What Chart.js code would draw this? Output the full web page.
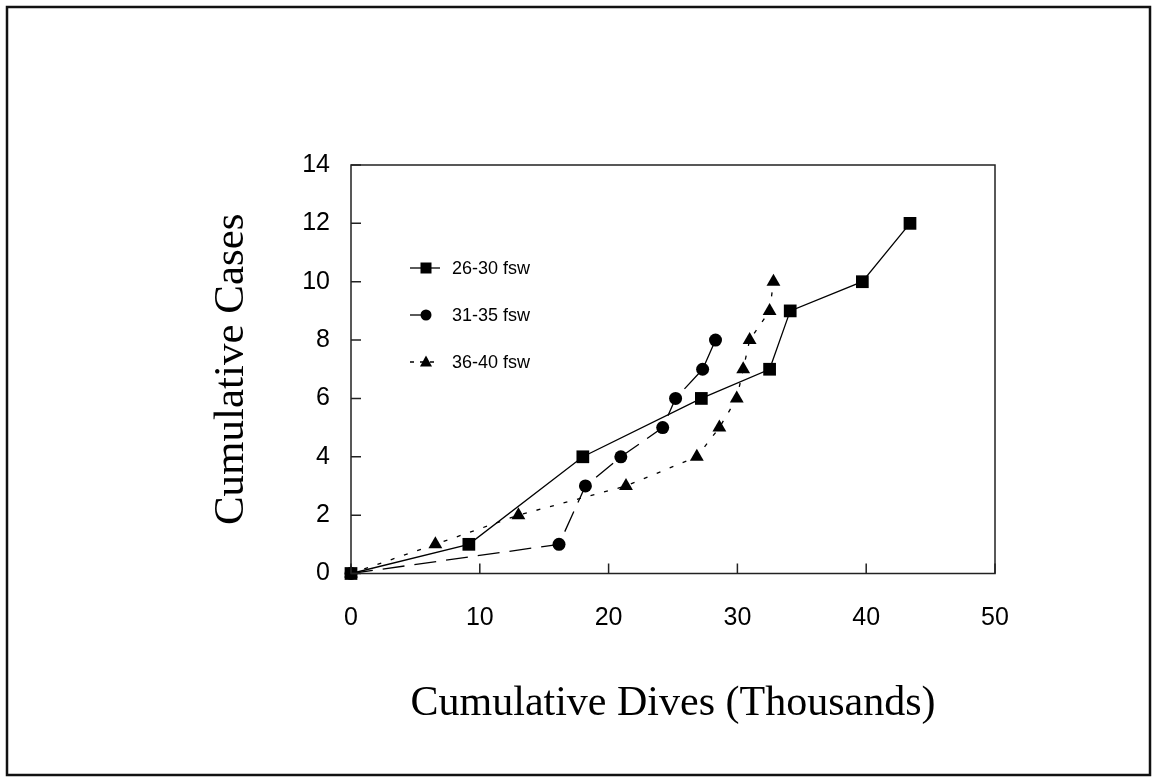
<!DOCTYPE html>
<html>
<head>
<meta charset="utf-8">
<script src="https://cdn.jsdelivr.net/npm/chart.js@4/dist/chart.umd.min.js"></script>
<style>
  html, body { margin: 0; padding: 0; background: #fff; overflow: hidden; }
  canvas { display: block; }
</style>
</head>
<body>
<canvas id="dives" width="1153" height="779"></canvas>
<script>
// cumulative dives (thousands) vs cumulative cases, by depth band
var dives2630 = [0, 9.15, 18, 27.2, 32.5, 34.1, 39.7, 43.4];
var cases2630 = [0, 1, 4, 6, 7, 9, 10, 12];
var dives3135 = [0, 16.15, 18.2, 20.95, 24.2, 25.2, 27.3, 28.3];
var cases3135 = [0, 1, 3, 4, 5, 6, 7, 8];
var dives3640 = [0, 6.55, 13, 21.35, 26.85, 28.6, 29.95, 30.45, 30.95, 32.5, 32.8];
var cases3640 = [0, 1, 2, 3, 4, 5, 6, 7, 8, 9, 10];
var seriesNames = ['26-30 fsw', '31-35 fsw', '36-40 fsw'];
var xTicks = [0, 10, 20, 30, 40, 50];
var yTicks = [0, 2, 4, 6, 8, 10, 12, 14];

function pts(xs, ys) {
    return xs.map(function (v, i) { return { x: v, y: ys[i] }; });
}

// outer frame, plot box, inward ticks and the little legend
var decor = {
    id: 'decor',
    beforeDraw: function (chart) {
        var c = chart.ctx;
        c.save();
        c.fillStyle = '#fff';
        c.fillRect(0, 0, chart.width, chart.height);
        c.restore();
    },
    afterDraw: function (chart) {
        var c = chart.ctx, a = chart.chartArea;
        var xs = chart.scales.x, ys = chart.scales.y;
        c.save();
        c.strokeStyle = '#111';
        c.lineWidth = 2.5;
        c.strokeRect(7, 7, 1143, 768);

        c.lineWidth = 1.5;
        c.strokeStyle = '#222';
        c.strokeRect(a.left, a.top, a.right - a.left, a.bottom - a.top);
        c.beginPath();
        xTicks.forEach(function (t) {
            var px = xs.getPixelForValue(t);
            c.moveTo(px, a.bottom);
            c.lineTo(px, a.bottom - 10);
        });
        yTicks.forEach(function (t) {
            var py = ys.getPixelForValue(t);
            c.moveTo(a.left, py);
            c.lineTo(a.left + 10, py);
        });
        c.stroke();

        // legend
        var lx = a.left + 59, ly = a.top + 103, gap = 47;
        chart.data.datasets.forEach(function (ds, i) {
            var y = ly + i * gap;
            var mx = lx + 16;
            c.strokeStyle = '#000';
            c.fillStyle = '#000';
            c.lineWidth = 1.3;
            c.setLineDash(i === 2 ? [4, 6] : []);
            c.beginPath();
            c.moveTo(lx, y);
            c.lineTo(i === 1 ? mx : lx + 30, y);
            c.stroke();
            c.setLineDash([]);
            c.beginPath();
            if (i === 0) {
                c.rect(mx - 5.5, y - 5.5, 11, 11);
            } else if (i === 1) {
                c.arc(mx, y, 5.5, 0, Math.PI * 2);
            } else {
                c.moveTo(mx, y - 6.5);
                c.lineTo(mx + 6, y + 4.5);
                c.lineTo(mx - 6, y + 4.5);
                c.closePath();
            }
            c.fill();
            c.font = '18px "Liberation Sans", Arial, sans-serif';
            c.textBaseline = 'middle';
            c.textAlign = 'left';
            c.fillText(ds.label, lx + 42, y + 1);
        });
        c.restore();
    }
};

const ctx = document.getElementById('dives');
const diveChart = new Chart(ctx, {
    type: 'line',
    data: {
        datasets: [{
            label: seriesNames[0],
            data: pts(dives2630, cases2630),
            borderColor: '#000',
            backgroundColor: '#000',
            borderWidth: 1.3,
            pointStyle: 'rect',
            pointRadius: 9,
            pointBorderWidth: 0,
            clip: false
        }, {
            label: seriesNames[1],
            data: pts(dives3135, cases3135),
            borderColor: '#000',
            backgroundColor: '#000',
            borderWidth: 1.3,
            borderDash: [22, 10],
            pointStyle: 'circle',
            pointRadius: 6.5,
            pointBorderWidth: 0,
            clip: false
        }, {
            label: seriesNames[2],
            data: pts(dives3640, cases3640),
            borderColor: '#000',
            backgroundColor: '#000',
            borderWidth: 1.3,
            borderDash: [4, 10],
            pointStyle: 'triangle',
            pointRadius: 8,
            pointBorderWidth: 0,
            clip: false
        }]
    },
    options: {
        responsive: false,
        animation: false,
        devicePixelRatio: 1,
        layout: {
            padding: { left: 206, top: 165, right: 158, bottom: 50 }
        },
        plugins: {
            legend: { display: false },
            tooltip: { enabled: false }
        },
        scales: {
            x: {
                type: 'linear',
                min: 0,
                max: 50,
                afterBuildTicks: function (s) { s.ticks = xTicks.map(function (v) { return { value: v }; }); },
                afterFit: function (s) { s.height = 155.5; },
                grid: { display: false, drawTicks: false },
                border: { display: false },
                ticks: {
                    color: '#000',
                    padding: 30,
                    font: { family: '"Liberation Sans", Arial, sans-serif', size: 25 }
                },
                title: {
                    display: true,
                    text: 'Cumulative Dives (Thousands)',
                    color: '#000',
                    padding: 0,
                    font: { family: '"Liberation Serif", "Times New Roman", serif', size: 42, lineHeight: 1.2 }
                }
            },
            y: {
                type: 'linear',
                min: 0,
                max: 14,
                afterBuildTicks: function (s) { s.ticks = yTicks.map(function (v) { return { value: v }; }); },
                afterFit: function (s) { s.width = 145; },
                grid: { display: false, drawTicks: false },
                border: { display: false },
                ticks: {
                    color: '#000',
                    padding: 21,
                    font: { family: '"Liberation Sans", Arial, sans-serif', size: 25 }
                },
                title: {
                    display: true,
                    text: 'Cumulative Cases',
                    color: '#000',
                    padding: 0,
                    font: { family: '"Liberation Serif", "Times New Roman", serif', size: 43, lineHeight: 1.2 }
                }
            }
        }
    },
    plugins: [decor]
});
</script>
</body>
</html>
